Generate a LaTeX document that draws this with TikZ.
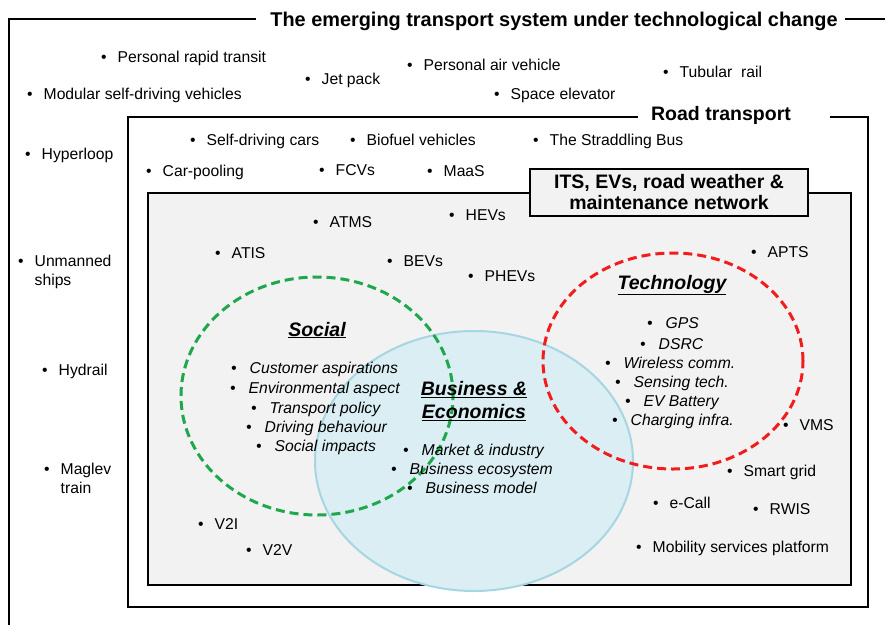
\documentclass[tikz,border=0pt]{standalone}
\usepackage{fontspec}
\setmainfont{Liberation Sans}
\definecolor{boxgray}{HTML}{F2F2F2}
\definecolor{socgreen}{HTML}{1FA84B}
\definecolor{techred}{HTML}{F21C1C}
\definecolor{busfill}{HTML}{DAEEF3}
\definecolor{busline}{HTML}{A6D6E1}
\newcommand\itemfont{\fontsize{15.7}{19}\selectfont}
\newcommand\headfont{\fontsize{19.5}{21.5}\selectfont\bfseries}
\newcommand\bul{\textbullet\hspace{11pt}}
\newcommand\ibul{\textbullet\hspace{13pt}}

\begin{document}
\begin{tikzpicture}[x=1pt,y=-1pt,
    frame/.style={line width=2.2pt},
    item/.style={anchor=west,inner sep=0pt,font=\itemfont,text height=11.3pt,text depth=0pt,align=left},
    twoline/.style={item,text height=30.3pt},
    sub/.style={item,font=\itemfont\itshape},
    head/.style={inner sep=0pt,font=\headfont,text height=14pt,text depth=0pt,align=center},
    topic/.style={head,font=\headfont\itshape}]
    \useasboundingbox (0,0) rectangle (885,624);
    \clip (0,0) rectangle (885,624);
    % frames
    \draw[frame] (256,19) -- (9,19) -- (9,640);
    \draw[frame] (845,19) -- (900,19);
    \node[head,font=\fontsize{19.9}{21.5}\selectfont\bfseries] (outer) at (554,19) {The emerging transport system under technological change};
    \draw[frame] (638,117) -| (128,607) -| (868,117) -- (830,117);
    \node[head] (road) at (721,113) {Road transport};
    \draw[line width=2pt,fill=boxgray] (148,193) rectangle (851,585);
    \node[head,text height=35.5pt,draw,fill=boxgray,line width=2pt,minimum width=278pt,minimum height=47pt] (its) at (669,192) {ITS, EVs, road weather \&\\maintenance network};
    % circles
    \draw[busline,line width=2pt,fill=busfill] (474,461) ellipse [x radius=159pt,y radius=130pt];
    \draw[socgreen,line width=3pt,dash pattern=on 9pt off 5pt] (317,396) ellipse [x radius=136pt,y radius=119pt];
    \draw[techred,line width=3pt,dash pattern=on 9pt off 5pt] (673,361) ellipse [x radius=130pt,y radius=108pt];
    % outside road transport
    \node[item] (prt) at (101,57) {\bul Personal rapid transit};
    \node[item] (jet) at (305,79) {\bul Jet pack};
    \node[item] (pav) at (407,65) {\bul Personal air vehicle};
    \node[item] (tub) at (663,72) {\bul Tubular\ \ rail};
    \node[item] (msdv) at (27,94) {\bul Modular self-driving vehicles};
    \node[item] (spel) at (494,94) {\bul Space elevator};
    \node[item] (hyp) at (25,154) {\bul Hyperloop};
    \node[twoline] (ums) at (18,270.5) {\bul Unmanned\\\hphantom{\bul}ships};
    \node[item] (hyd) at (42,370) {\bul Hydrail};
    \node[twoline] (mag) at (44,478.5) {\bul Maglev\\\hphantom{\bul}train};
    % road transport
    \node[item] (sdc) at (190,140) {\bul Self-driving cars};
    \node[item] (bio) at (350,140) {\bul Biofuel vehicles};
    \node[item] (sbus) at (533,140) {\bul The Straddling Bus};
    \node[item] (carp) at (146,171) {\bul Car-pooling};
    \node[item] (fcv) at (319,170) {\bul FCVs};
    \node[item] (maas) at (427,171) {\bul MaaS};
    % network
    \node[item] (atms) at (313,222) {\bul ATMS};
    \node[item] (hev) at (449,215) {\bul HEVs};
    \node[item] (atis) at (215,253) {\bul ATIS};
    \node[item] (bev) at (387,261) {\bul BEVs};
    \node[item] (phev) at (468,276) {\bul PHEVs};
    \node[item] (apts) at (751,252) {\bul APTS};
    \node[item] (vms) at (783,425) {\bul VMS};
    \node[item] (sgrid) at (727,471) {\bul Smart grid};
    \node[item] (ecall) at (653,503) {\bul e-Call};
    \node[item] (rwis) at (753,509) {\bul RWIS};
    \node[item] (msp) at (636,547) {\bul Mobility services platform};
    \node[item] (vti) at (198,524) {\bul V2I};
    \node[item] (vtv) at (246,550) {\bul V2V};
    % social
    \node[topic] (soc) at (317,329) {\underline{Social}};
    \node[sub] (soca) at (231,368) {\ibul Customer aspirations};
    \node[sub] (socb) at (230,388) {\ibul Environmental aspect};
    \node[sub] (socc) at (251,408) {\ibul Transport policy};
    \node[sub] (socd) at (246,427) {\ibul Driving behaviour};
    \node[sub] (soce) at (256,446) {\ibul Social impacts};
    % business
    \node[topic,text height=37pt] (bus) at (474,400) {\underline{Business \&}\\[1.5pt]\underline{Economics}};
    \node[sub] (busa) at (403,450) {\ibul Market \& industry};
    \node[sub] (busb) at (391,469) {\ibul Business ecosystem};
    \node[sub] (busc) at (407,488) {\ibul Business model};
    % technology
    \node[topic] (tech) at (672,282) {\underline{Technology}};
    \node[sub] (teca) at (647,323) {\ibul GPS};
    \node[sub] (tecb) at (640,344) {\ibul DSRC};
    \node[sub] (tecc) at (605,363) {\ibul Wireless comm.};
    \node[sub] (tecd) at (615,382) {\ibul Sensing tech.};
    \node[sub] (tece) at (625,401) {\ibul EV Battery};
    \node[sub] (tecf) at (612,420) {\ibul Charging infra.};
\end{tikzpicture}
\end{document}
